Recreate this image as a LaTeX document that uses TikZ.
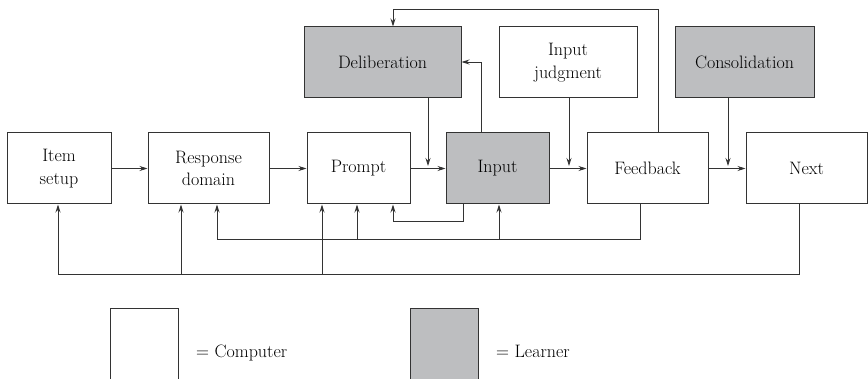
\documentclass[tikz,border=0pt]{standalone}
\usetikzlibrary{arrows.meta}
\definecolor{lgray}{HTML}{BDBEC0}
\definecolor{ink}{HTML}{333333}
\begin{document}
\begin{tikzpicture}[x=1pt,y=-1pt,
  box/.style={draw=ink,line width=1pt,minimum height=71pt,align=center,
    font=\rmfamily\fontsize{18}{22.7}\selectfont,inner sep=0pt},
  learner/.style={box,fill=lgray},
  conn/.style={draw=ink,line width=0.8pt},
  arr/.style={conn,-{Stealth[length=8pt,width=5pt]}},
  legtext/.style={anchor=base west,font=\rmfamily\fontsize{18}{22.7}\selectfont,inner sep=0pt}]
\clip (0,0) rectangle (868,379);
\fill[white] (0,0) rectangle (868,379);
% main row
\node[box,minimum width=104pt] (item) at (59,168.5) {Item\\setup};
\node[box,minimum width=121pt] (resp) at (208.5,168.5) {Response\\domain};
\node[box,minimum width=103pt] (prompt) at (358.5,168.5) {Prompt};
\node[learner,minimum width=103pt] (input) at (497.5,168.5) {Input};
\node[box,minimum width=121pt] (feedback) at (647.5,168.5) {Feedback};
\node[box,minimum width=121pt] (next) at (806.5,168.5) {Next};
% top row
\node[learner,minimum width=157pt] (delib) at (382.5,62.5) {Deliberation};
\node[box,minimum width=138pt] (ij) at (568,62.5) {Input\\judgment};
\node[learner,minimum width=139pt] (cons) at (744.5,62) {Consolidation};
% legend
\node[box,minimum width=68pt,minimum height=90pt] (legc) at (144,354) {};
\node[learner,minimum width=68pt,minimum height=90pt] (legl) at (444,354) {};
\node[legtext] (legct) at (196,358) {= Computer};
\node[legtext] (leglt) at (496,358) {= Learner};
% coordinates
\coordinate (d1) at (428,166);
\coordinate (j1) at (569,166);
\coordinate (k1) at (728,166);
\coordinate (c62) at (481,62);
\coordinate (c658) at (658,9);
\coordinate (c393) at (393,9);
\coordinate (b463) at (463,221);
\coordinate (b393) at (393,221);
\coordinate (f640) at (640,239);
\coordinate (f217) at (217,239);
\coordinate (f357) at (357,239);
\coordinate (f499) at (499,239);
\coordinate (n799) at (799,274);
\coordinate (n58) at (58,274);
\coordinate (n181) at (181,274);
\coordinate (n322) at (322,274);
% main flow
\draw[arr] (item) -- (resp);
\draw[arr] (resp) -- (prompt);
\draw[arr] (prompt) -- (input);
\draw[arr] (input) -- (feedback);
\draw[arr] (feedback) -- (next);
% down arrows
\draw[arr] (delib.south -| d1) -- (d1);
\draw[arr] (ij.south -| j1) -- (j1);
\draw[arr] (cons.south -| k1) -- (k1);
% input to deliberation
\draw[arr] (input.north -| c62) -- (c62) -- (delib.east |- c62);
% feedback to deliberation
\draw[arr] (feedback.north -| c658) -- (c658) -- (c393) -- (delib.north -| c393);
% input to prompt
\draw[arr] (input.south -| b463) -- (b463) -- (b393) -- (prompt.south -| b393);
% feedback loop
\draw[arr] (feedback.south -| f640) -- (f640) -- (f217) -- (resp.south -| f217);
\draw[arr] (f357) -- (prompt.south -| f357);
\draw[arr] (f499) -- (input.south -| f499);
% next loop
\draw[arr] (next.south -| n799) -- (n799) -- (n58) -- (item.south -| n58);
\draw[arr] (n181) -- (resp.south -| n181);
\draw[arr] (n322) -- (prompt.south -| n322);
\end{tikzpicture}
\end{document}
